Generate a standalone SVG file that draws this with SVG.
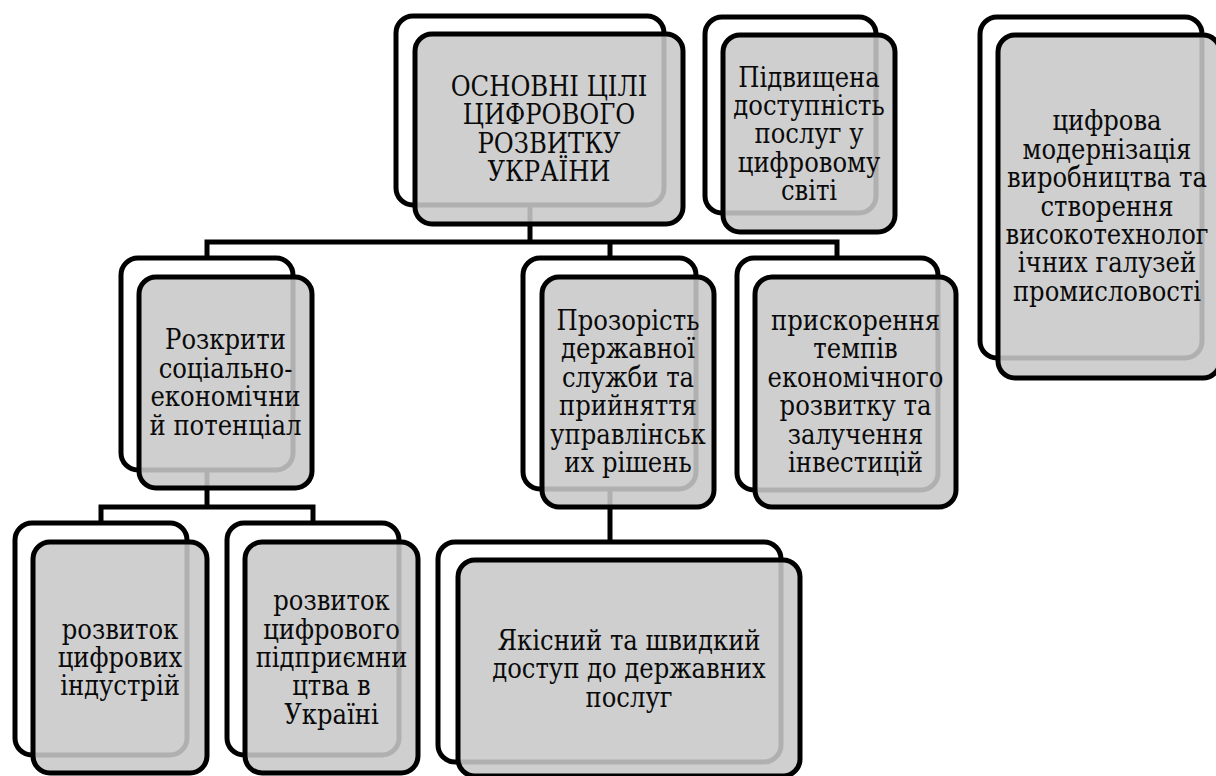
<svg xmlns="http://www.w3.org/2000/svg" width="1216" height="776" viewBox="0 0 1216 776">
<style>
.back{fill:#ffffff;stroke:#000000;stroke-width:5}
.front{fill:#c8c8c8;fill-opacity:0.88;stroke:#000000;stroke-width:5}
.conn{fill:none;stroke:#000000;stroke-width:5}
text{font-family:'DejaVu Serif Condensed','DejaVu Serif',serif;font-size:27px;fill:#0a0a0a;text-anchor:middle}
</style>
<rect width="1216" height="776" fill="#ffffff"/>
<g id="connectors">
<path class="conn" d="M530,205 V242"/>
<path class="conn" d="M207,258 V242 H837 V258"/>
<path class="conn" d="M610,242 V258"/>
<path class="conn" d="M207,470 V507"/>
<path class="conn" d="M101,523 V507 H313 V523"/>
<path class="conn" d="M610,489 V542"/>
</g>
<g id="node-main">
<rect class="back" x="396" y="16" width="268" height="189" rx="17"/>
<rect class="front" x="415" y="34" width="268" height="190" rx="17"/>
<text x="549"><tspan x="549" y="96">ОСНОВНІ ЦІЛІ</tspan><tspan x="549" y="124.4">ЦИФРОВОГО</tspan><tspan x="549" y="152.8">РОЗВИТКУ</tspan><tspan x="549" y="181.2">УКРАЇНИ</tspan></text>
</g>
<g id="node-access">
<rect class="back" x="705" y="17" width="171" height="196" rx="17"/>
<rect class="front" x="723" y="35" width="172" height="197" rx="17"/>
<text x="809"><tspan x="809" y="86.5">Підвищена</tspan><tspan x="809" y="114.9">доступність</tspan><tspan x="809" y="143.3">послуг у</tspan><tspan x="809" y="171.7">цифровому</tspan><tspan x="809" y="200.1">світі</tspan></text>
</g>
<g id="node-industry">
<rect class="back" x="980" y="17" width="222" height="341" rx="17"/>
<rect class="front" x="998" y="35" width="222" height="343" rx="17"/>
<text x="1107"><tspan x="1107" y="130.3">цифрова</tspan><tspan x="1107" y="158.7">модернізація</tspan><tspan x="1107" y="187.1">виробництва та</tspan><tspan x="1107" y="215.5">створення</tspan><tspan x="1107" y="243.9">високотехнолог</tspan><tspan x="1107" y="272.3">ічних галузей</tspan><tspan x="1107" y="300.7">промисловості</tspan></text>
</g>
<g id="node-potential">
<rect class="back" x="121" y="258" width="172" height="212" rx="17"/>
<rect class="front" x="139" y="277" width="173" height="211" rx="17"/>
<text x="225.5"><tspan x="225.5" y="349.4">Розкрити</tspan><tspan x="225.5" y="377.8">соціально-</tspan><tspan x="225.5" y="406.2">економічни</tspan><tspan x="225.5" y="434.6">й потенціал</tspan></text>
</g>
<g id="node-transparency">
<rect class="back" x="523" y="258" width="173" height="231" rx="17"/>
<rect class="front" x="542" y="277" width="172" height="230" rx="17"/>
<text x="628"><tspan x="628" y="330">Прозорість</tspan><tspan x="628" y="358.4">державної</tspan><tspan x="628" y="386.8">служби та</tspan><tspan x="628" y="415.2">прийняття</tspan><tspan x="628" y="443.6">управлінськ</tspan><tspan x="628" y="472">их рішень</tspan></text>
</g>
<g id="node-economy">
<rect class="back" x="737" y="258" width="201" height="232" rx="17"/>
<rect class="front" x="755" y="277" width="201" height="230" rx="17"/>
<text x="855.5"><tspan x="855.5" y="330">прискорення</tspan><tspan x="855.5" y="358.4">темпів</tspan><tspan x="855.5" y="386.8">економічного</tspan><tspan x="855.5" y="415.2">розвитку та</tspan><tspan x="855.5" y="443.6">залучення</tspan><tspan x="855.5" y="472">інвестицій</tspan></text>
</g>
<g id="node-digital-industries">
<rect class="back" x="15" y="523" width="172" height="232" rx="17"/>
<rect class="front" x="33" y="542" width="174" height="231" rx="17"/>
<text x="120"><tspan x="120" y="638.6">розвиток</tspan><tspan x="120" y="667">цифрових</tspan><tspan x="120" y="695.4">індустрій</tspan></text>
</g>
<g id="node-entrepreneurship">
<rect class="back" x="227" y="523" width="172" height="232" rx="17"/>
<rect class="front" x="245" y="542" width="173" height="231" rx="17"/>
<text x="331.5"><tspan x="331.5" y="610.2">розвиток</tspan><tspan x="331.5" y="638.6">цифрового</tspan><tspan x="331.5" y="667">підприємни</tspan><tspan x="331.5" y="695.4">цтва в</tspan><tspan x="331.5" y="723.8">Україні</tspan></text>
</g>
<g id="node-services">
<rect class="back" x="438" y="542" width="343" height="220" rx="17"/>
<rect class="front" x="458" y="560" width="342" height="216" rx="17"/>
<text x="629"><tspan x="629" y="650">Якісний та швидкий</tspan><tspan x="629" y="678.4">доступ до державних</tspan><tspan x="629" y="706.8">послуг</tspan></text>
</g>
</svg>
